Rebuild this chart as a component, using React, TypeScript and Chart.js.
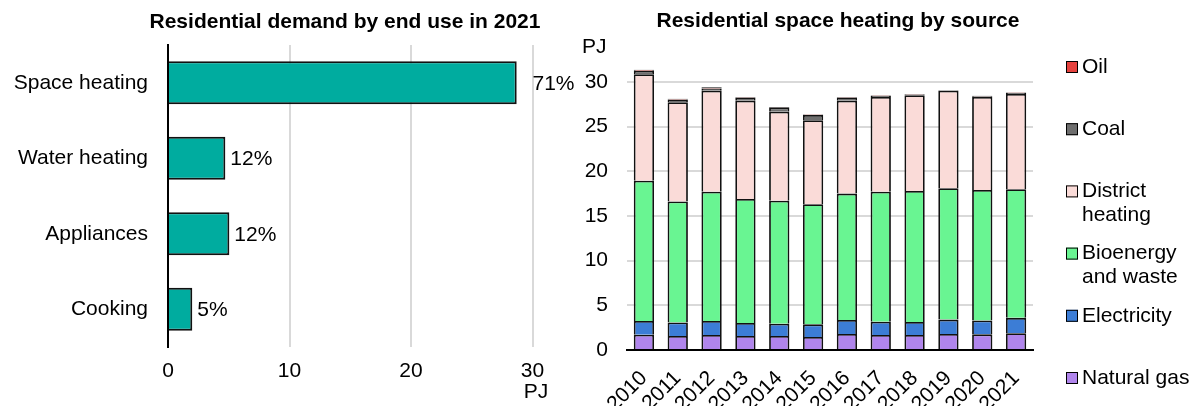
import React, { useEffect, useRef } from "react";
import { Chart, registerables } from "chart.js";

Chart.register(...registerables);

// ---------- Left chart data ----------
const endUses = ["Space heating", "Water heating", "Appliances", "Cooking"];
const endUseDemand = [28.7, 4.72, 5.05, 2.0];
const endUseShares = ["71%", "12%", "12%", "5%"];
const demandTicks = [0, 10, 20, 30];

// ---------- Right chart data ----------
const years = ["2010", "2011", "2012", "2013", "2014", "2015", "2016", "2017", "2018", "2019", "2020", "2021"];
const naturalGas = [1.7, 1.57, 1.68, 1.57, 1.57, 1.46, 1.79, 1.68, 1.68, 1.79, 1.75, 1.87];
const electricity = [1.55, 1.5, 1.57, 1.46, 1.38, 1.41, 1.57, 1.49, 1.45, 1.61, 1.55, 1.73];
const bioenergy = [15.7, 13.55, 14.45, 13.87, 13.75, 13.43, 14.14, 14.53, 14.67, 14.7, 14.6, 14.4];
const districtHeating = [11.9, 11.1, 11.3, 11.0, 9.95, 9.4, 10.4, 10.6, 10.7, 10.9, 10.4, 10.65];
const coal = [0.4, 0.3, 0.25, 0.35, 0.5, 0.6, 0.35, 0.15, 0.1, 0.05, 0.1, 0.1];
const oil = [0.1, 0.1, 0.15, 0.05, 0.05, 0.05, 0.05, 0.05, 0.05, 0.05, 0.05, 0.05];
const heatingTicks = [0, 5, 10, 15, 20, 25, 30];

const FONT = "'Liberation Sans', Arial, sans-serif";
const FS = 21;

const textPlugin = {
  id: "extraTexts",
  afterDraw(chart: any, _args: any, opts: any) {
    const ctx = chart.ctx;
    (opts.items || []).forEach((t: any) => {
      ctx.save();
      ctx.font = t.font;
      ctx.fillStyle = "#000";
      ctx.textAlign = t.align || "center";
      ctx.textBaseline = "middle";
      ctx.fillText(t.text, t.x, t.y);
      ctx.restore();
    });
  },
};

const barLabelPlugin = {
  id: "barLabels",
  afterDatasetsDraw(chart: any, _args: any, opts: any) {
    if (!opts.labels) return;
    const ctx = chart.ctx;
    const meta = chart.getDatasetMeta(0);
    ctx.save();
    ctx.font = `${FS}px ${FONT}`;
    ctx.fillStyle = "#000";
    ctx.textAlign = "left";
    ctx.textBaseline = "middle";
    meta.data.forEach((el: any, i: number) => {
      const end = el.x + 5;
      const x = end > chart.chartArea.right - 30 ? Math.max(end, chart.chartArea.right) : end;
      ctx.fillText(opts.labels[i], x, el.y + 1);
    });
    ctx.restore();
  },
};

const legendPlugin = {
  id: "sideLegend",
  afterDraw(chart: any, _args: any, opts: any) {
    if (!opts.x) return;
    const ctx = chart.ctx;
    const items = [...chart.data.datasets].reverse();
    ctx.save();
    ctx.font = `${FS}px ${FONT}`;
    ctx.textBaseline = "middle";
    ctx.textAlign = "left";
    items.forEach((ds: any, i: number) => {
      const y = opts.top + i * opts.step;
      const words = ds.label.split(" ");
      const lines: string[] = [];
      let cur = "";
      words.forEach((w: string) => {
        const test = cur ? cur + " " + w : w;
        if (cur && ctx.measureText(test).width > opts.maxWidth) {
          lines.push(cur);
          cur = w;
        } else cur = test;
      });
      lines.push(cur);
      ctx.fillStyle = ds.backgroundColor;
      ctx.fillRect(opts.x, y - 6, 12, 12);
      ctx.strokeStyle = "#000";
      ctx.lineWidth = 1;
      ctx.strokeRect(opts.x + 0.5, y - 5.5, 11, 11);
      ctx.fillStyle = "#000";
      lines.forEach((ln, j) => ctx.fillText(ln, opts.x + 16, y + j * opts.lineHeight));
    });
    ctx.restore();
  },
};

function LeftChart() {
  const ref = useRef<HTMLCanvasElement>(null);
  useEffect(() => {
    const chart = new Chart(ref.current!, {
      type: "bar",
      data: {
        labels: endUses,
        datasets: [
          {
            data: endUseDemand,
            backgroundColor: "#00AC9F",
            borderColor: "#111",
            borderWidth: 2,
            categoryPercentage: 1,
            barPercentage: 0.57,
          },
        ],
      },
      options: {
        indexAxis: "y",
        responsive: false,
        animation: false,
        devicePixelRatio: 1,
        layout: { padding: { top: 45, right: 580 - 532.5, left: 0, bottom: 0 } },
        plugins: {
          legend: { display: false },
          tooltip: { enabled: false },
          barLabels: { labels: endUseShares },
          extraTexts: {
            items: [
              { text: "Residential demand by end use in 2021", x: 345, y: 22, font: `bold 21px ${FONT}` },
              { text: "PJ", x: 536, y: 392, font: `${FS}px ${FONT}` },
            ],
          },
        } as any,
        scales: {
          x: {
            min: 0,
            max: 30,
            afterBuildTicks: (s: any) => {
              s.ticks = demandTicks.map((v) => ({ value: v }));
            },
            grid: {
              color: (c: any) => (c.tick && c.tick.value === 0 ? "rgba(0,0,0,0)" : "#D9D9D9"),
              lineWidth: 2,
              drawTicks: false,
            },
            border: { display: false },
            ticks: { font: { family: FONT, size: FS }, color: "#000", padding: 12, maxRotation: 0 },
            afterFit: (s: any) => {
              s.height = 406 - 347;
            },
          },
          y: {
            grid: { display: false, drawTicks: false },
            border: { display: true, color: "#000", width: 2 },
            ticks: { font: { family: FONT, size: FS }, color: "#000", padding: 20 },
            afterFit: (s: any) => {
              s.width = 168;
            },
          },
        },
      } as any,
      plugins: [textPlugin, barLabelPlugin],
    });
    return () => chart.destroy();
  }, []);
  return <canvas ref={ref} width={580} height={406} />;
}

function RightChart() {
  const ref = useRef<HTMLCanvasElement>(null);
  useEffect(() => {
    const common = { borderColor: "#111", borderWidth: 1.8, categoryPercentage: 1, barPercentage: 0.6 };
    const chart = new Chart(ref.current!, {
      type: "bar",
      data: {
        labels: years,
        datasets: [
          { label: "Natural gas", data: naturalGas, backgroundColor: "#B085EC", ...common },
          { label: "Electricity", data: electricity, backgroundColor: "#3C7DD6", ...common },
          { label: "Bioenergy and waste", data: bioenergy, backgroundColor: "#69F592", ...common },
          { label: "District heating", data: districtHeating, backgroundColor: "#FADBD8", ...common },
          { label: "Coal", data: coal, backgroundColor: "#6E6E6E", ...common },
          { label: "Oil", data: oil, backgroundColor: "#E5423E", ...common },
        ],
      },
      options: {
        responsive: false,
        animation: false,
        devicePixelRatio: 1,
        layout: { padding: { top: 64, right: 620 - 453, left: 0, bottom: 0 } },
        plugins: {
          legend: { display: false },
          tooltip: { enabled: false },
          sideLegend: { x: 486, top: 67, step: 62.2, lineHeight: 24, maxWidth: 112 },
          extraTexts: {
            items: [
              { text: "Residential space heating by source", x: 258, y: 21, font: `bold 21px ${FONT}` },
              { text: "PJ", x: 2, y: 47, font: `${FS}px ${FONT}`, align: "left" },
            ],
          },
        } as any,
        scales: {
          x: {
            stacked: true,
            grid: { display: false, drawTicks: false },
            border: { display: true, color: "#000", width: 2 },
            ticks: { font: { family: FONT, size: FS }, color: "#000", minRotation: 45, maxRotation: 45, padding: 16, autoSkip: false },
            afterFit: (s: any) => {
              s.height = 406 - 350;
            },
          },
          y: {
            stacked: true,
            min: 0,
            max: 32,
            afterBuildTicks: (s: any) => {
              s.ticks = heatingTicks.map((v) => ({ value: v }));
            },
            grid: {
              color: (c: any) => (c.tick && c.tick.value === 0 ? "rgba(0,0,0,0)" : "#D9D9D9"),
              lineWidth: 2,
              drawTicks: false,
            },
            border: { display: false },
            ticks: { font: { family: FONT, size: FS }, color: "#000", padding: 19 },
            afterFit: (s: any) => {
              s.width = 47;
            },
          },
        },
      } as any,
      plugins: [textPlugin, legendPlugin],
    });
    return () => chart.destroy();
  }, []);
  return <canvas ref={ref} width={620} height={406} />;
}

export default function App() {
  return (
    <>
      <div style={{ position: "absolute", left: 0, top: 0, width: 580, height: 406 }}>
        <LeftChart />
      </div>
      <div style={{ position: "absolute", left: 580, top: 0, width: 620, height: 406 }}>
        <RightChart />
      </div>
    </>
  );
}
